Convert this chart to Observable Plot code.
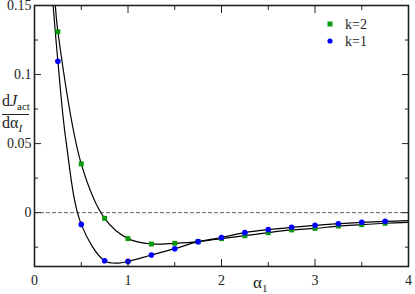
<!DOCTYPE html>
<html><head><meta charset="utf-8">
<script src="https://cdn.jsdelivr.net/npm/d3@7"></script>
<script src="https://cdn.jsdelivr.net/npm/@observablehq/plot@0.6"></script>
<style>body{margin:0;background:#fff} #chart{width:415px;height:294px}
#chart svg text{font-family:"Liberation Serif","Tinos","Times New Roman","DejaVu Serif",serif !important;}</style>
</head><body><div id="chart"></div>
<script>
// sampled points
const alpha = [0.25,0.5,0.75,1.0,1.25,1.5,1.75,2.0,2.25,2.5,2.75,3.0,3.25,3.5,3.75];
const k1 = [0.1096,-0.0085,-0.0348,-0.0353,-0.0307,-0.0261,-0.021,-0.018,-0.0145,-0.0123,-0.0106,-0.0092,-0.008,-0.007,-0.0063];
const k2 = [0.131,0.0353,-0.0041,-0.0188,-0.0227,-0.0222,-0.021,-0.0188,-0.0167,-0.0145,-0.0125,-0.0114,-0.0097,-0.0087,-0.0077];
// fitted curves
const curve1X = [0.199,0.25,0.337,0.5,0.75,0.9,1.0,1.25,1.5,1.75,2.0,2.25,2.5,2.75,3.0,3.25,3.5,3.75,4.0];
const curve1Y = [0.15,0.1096,0.052,-0.0085,-0.0348,-0.0365,-0.0353,-0.0307,-0.0261,-0.021,-0.018,-0.0145,-0.0123,-0.0106,-0.0092,-0.008,-0.007,-0.0063,-0.0058];
const curve2X = [0.223,0.25,0.5,0.75,1.0,1.25,1.5,1.75,2.0,2.25,2.5,2.75,3.0,3.25,3.5,3.75,4.0];
const curve2Y = [0.15,0.131,0.0353,-0.0041,-0.0188,-0.0227,-0.0222,-0.021,-0.0188,-0.0167,-0.0145,-0.0125,-0.0114,-0.0097,-0.0087,-0.0077,-0.007];
const xMajor = [0,1,2,3,4];
const xMinor = [0.5,1.5,2.5,3.5];
const yMajor = [0,0.05,0.1,0.15];
const yMinor = [-0.025,0.025,0.075,0.125];
const seriesNames = ["k=2","k=1"];
const seriesColors = ["#0a9a0a","#0000ff"];

const pts1 = alpha.map((a,i)=>({x:a,y:k1[i]}));
const pts2 = alpha.map((a,i)=>({x:a,y:k2[i]}));
const c1 = curve1X.map((a,i)=>({x:a,y:curve1Y[i]}));
const c2 = curve2X.map((a,i)=>({x:a,y:curve2Y[i]}));

const serif = "'Liberation Serif', Tinos, 'Times New Roman', 'DejaVu Serif', serif";
const tickOpts = {tickFormat: () => "", label: null, stroke: "#222"};
const plot = Plot.plot({
  width: 415, height: 294,
  marginLeft: 34, marginRight: 7, marginTop: 5, marginBottom: 28,
  x: {domain: [0,4]},
  y: {domain: [-0.039,0.15]},
  style: {fontFamily: serif, fontSize: "14px", color: "#222", background: "#fff"},
  marks: [
    Plot.ruleY([0], {stroke: "#666", strokeDasharray: "4,2", strokeWidth: 1}),
    Plot.line(c1, {x:"x", y:"y", curve:"catmull-rom", stroke:"#000", strokeWidth:1.2, clip:true}),
    Plot.line(c2, {x:"x", y:"y", curve:"catmull-rom", stroke:"#000", strokeWidth:1.2, clip:true}),
    Plot.dot(pts2, {x:"x", y:"y", symbol:"square", r:2.8, fill:seriesColors[0], stroke:null}),
    Plot.dot(pts1, {x:"x", y:"y", r:2.8, fill:seriesColors[1], stroke:null}),
    Plot.axisX(xMajor, {anchor:"bottom", tickSize:-7, ...tickOpts}),
    Plot.axisX(xMinor, {anchor:"bottom", tickSize:-4, ...tickOpts}),
    Plot.axisX(xMajor, {anchor:"top", tickSize:-7, ...tickOpts}),
    Plot.axisX(xMinor, {anchor:"top", tickSize:-4, ...tickOpts}),
    Plot.axisY(yMajor, {anchor:"left", tickSize:-7, ...tickOpts}),
    Plot.axisY(yMinor, {anchor:"left", tickSize:-4, ...tickOpts}),
    Plot.axisY(yMajor, {anchor:"right", tickSize:-7, ...tickOpts}),
    Plot.axisY(yMinor, {anchor:"right", tickSize:-4, ...tickOpts}),
    Plot.axisX(xMajor, {anchor:"bottom", tickSize:0, tickPadding:9, tickFormat: d => String(d), label:null, fill:"#222", fontSize:14}),
    Plot.axisY(yMajor, {anchor:"left", tickSize:0, tickPadding:3, tickFormat: d => String(d), label:null, fill:"#222", fontSize:14}),
    Plot.frame({stroke:"#222", strokeWidth:1.6})
  ]
});
document.getElementById("chart").appendChild(plot);

const svg = d3.select(plot);
// legend
const lg = svg.append("g").attr("font-family",serif).attr("font-size","14px").attr("fill","#222").attr("text-anchor","start");
lg.append("rect").attr("x",327.5).attr("y",21.5).attr("width",5).attr("height",5).attr("fill",seriesColors[0]);
lg.append("text").attr("x",345).attr("y",29).text(seriesNames[0]);
lg.append("circle").attr("cx",330).attr("cy",41).attr("r",2.6).attr("fill",seriesColors[1]);
lg.append("text").attr("x",345).attr("y",46).text(seriesNames[1]);
// x label
const xl = svg.append("text").attr("x",253).attr("y",288).attr("text-anchor","start").attr("font-family",serif).attr("font-size","17px").attr("fill","#222");
xl.append("tspan").text("α");
xl.append("tspan").attr("font-size","11px").attr("dy",4).text("1");
// y label
const yl = svg.append("g").attr("font-family",serif).attr("fill","#222").attr("text-anchor","start");
const t1 = yl.append("text").attr("x",2).attr("y",106).attr("font-size","16px");
t1.append("tspan").text("d");
t1.append("tspan").attr("font-style","italic").text("J");
t1.append("tspan").attr("font-size","11px").attr("dy",4).text("act");
yl.append("line").attr("x1",2).attr("x2",29).attr("y1",114.5).attr("y2",114.5).attr("stroke","#222").attr("stroke-width",1);
const t2 = yl.append("text").attr("x",2).attr("y",128).attr("font-size","16px");
t2.append("tspan").text("dα");
t2.append("tspan").attr("font-size","11px").attr("font-style","italic").attr("dy",4).text("I");
</script>
</body></html>
